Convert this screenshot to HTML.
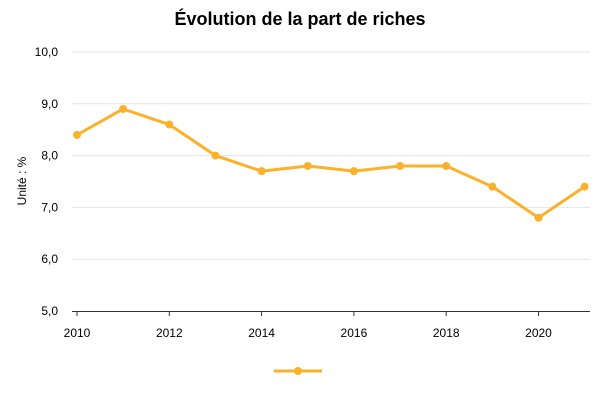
<!DOCTYPE html>
<html><head><meta charset="utf-8"><style>
body{margin:0;background:#fff;font-family:"Liberation Sans",sans-serif;}
svg text{font-family:"Liberation Sans",sans-serif;}
</style></head><body>
<svg width="600" height="400" xmlns="http://www.w3.org/2000/svg">
<rect width="600" height="400" fill="#fff"/>
<text x="300" y="25" text-anchor="middle" font-size="18" font-weight="bold" fill="#000">Évolution de la part de riches</text>
<text transform="translate(26,181) rotate(-90)" text-anchor="middle" font-size="12" fill="#000">Unité : %</text>
<g id="grid"></g><g id="xaxis"></g><g id="series"></g>
<g>
<line x1="274" y1="371" x2="322" y2="371" stroke="#fbb12a" stroke-width="3"/>
<circle cx="298" cy="371" r="4" fill="#fbb12a"/>
</g>
</svg>
<script>
const years=[2010,2011,2012,2013,2014,2015,2016,2017,2018,2019,2020,2021];
const values=[8.4,8.9,8.6,8.0,7.7,7.8,7.7,7.8,7.8,7.4,6.8,7.4];
const yTicks=[5,6,7,8,9,10];
const xTicks=[2010,2012,2014,2016,2018,2020];
const NS="http://www.w3.org/2000/svg";
const x=v=>77+(v-2010)*46.15;
const y=v=>311-(v-5)*51.8;
function mk(t,a,p){const e=document.createElementNS(NS,t);for(const k in a)e.setAttribute(k,a[k]);p.appendChild(e);return e;}
const g=document.getElementById('grid');
yTicks.forEach(t=>{
 if(t>5){const l=mk('line',{x1:72,x2:590,y1:y(t),y2:y(t),stroke:'#e6e6e6','stroke-width':1},g);
 
 }
 const tx=mk('text',{x:58,y:y(t)+4,'text-anchor':'end','font-size':12,fill:'#000'},g);
 
 
 tx.textContent=t.toFixed(1).replace('.',',');
});
const xa=document.getElementById('xaxis');
const ax=mk('line',{x1:72,x2:590,y1:311.5,y2:311.5,stroke:'#333','stroke-width':1},xa);


xTicks.forEach(t=>{
 const tk=mk('line',{x1:x(t),x2:x(t),y1:311,y2:316,stroke:'#333'},xa);
 
 
 const tx=mk('text',{x:x(t),y:337,'text-anchor':'middle','font-size':12,fill:'#000'},xa);
 
 
 tx.textContent=t;
});
const s=document.getElementById('series');
const pl=mk('polyline',{points:years.map((yr,i)=>x(yr)+','+y(values[i])).join(' '),fill:'none',stroke:'#fbb12a','stroke-width':3,'stroke-linejoin':'round'},s);


years.forEach((yr,i)=>{
 const c=mk('circle',{cx:x(yr),cy:y(values[i]),r:4,fill:'#fbb12a'},s);
 
 
});
</script>
</body></html>
